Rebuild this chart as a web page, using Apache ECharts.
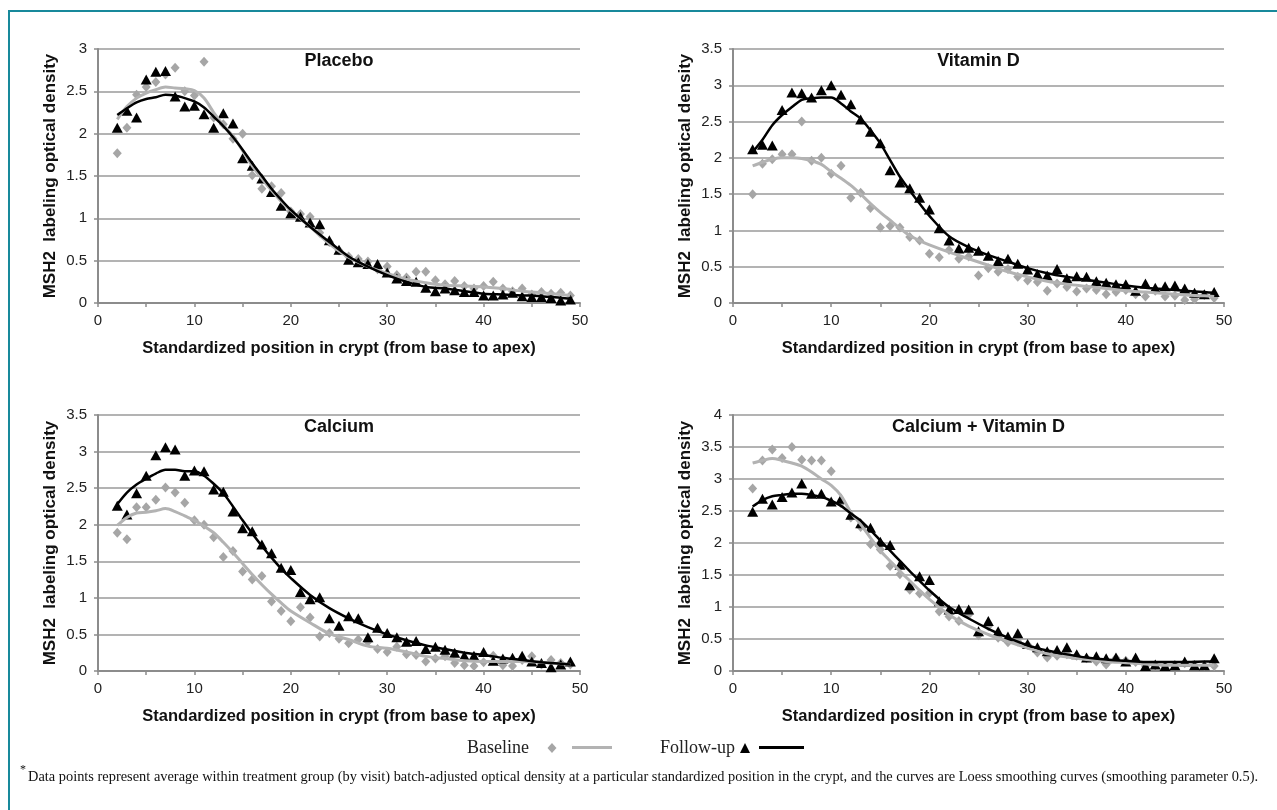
<!DOCTYPE html>
<html>
<head>
<meta charset="utf-8">
<script src="https://cdn.jsdelivr.net/npm/echarts@6/dist/echarts.min.js"></script>
<style>
html,body{margin:0;padding:0;background:#fff;}
#chart{position:absolute;left:0;top:0;width:1277px;height:810px;}
#frame{position:absolute;left:8px;top:10px;right:0;bottom:0;border-left:2px solid #18899b;border-top:2px solid #18899b;pointer-events:none;}
</style>
</head>
<body>
<div id="chart"></div>
<div id="frame"></div>
<script>
// ---------- data ----------
const positions = [2,3,4,5,6,7,8,9,10,11,12,13,14,15,16,17,18,19,20,21,22,23,24,25,26,27,28,29,30,31,32,33,34,35,36,37,38,39,40,41,42,43,44,45,46,47,48,49];
const curveX = [2,3,4,5,6,7,8,9,10,11,12,13,14,15,16,17,18,19,20,22,24,26,28,30,32,34,36,38,40,42,44,46,48,49];

const panelTitles = ['Placebo', 'Vitamin D', 'Calcium', 'Calcium + Vitamin D'];
const yMax = [3, 3.5, 3.5, 4];
const xTickLabels = [0, 10, 20, 30, 40, 50];

const placeboBaseline = [1.77,2.07,2.46,2.55,2.61,2.70,2.78,2.50,2.45,2.85, 2.19,2.11,1.94,2.00,1.51,1.35,1.38,1.30,1.08,1.05, 1.02,0.83,0.72,0.62,0.55,0.52,0.49,0.40,0.43,0.33, 0.30,0.37,0.37,0.27,0.22,0.26,0.20,0.17,0.20,0.25, 0.17,0.14,0.17,0.10,0.13,0.11,0.12,0.09];
const placeboFollowup = [2.07,2.27,2.19,2.64,2.73,2.74,2.44,2.32,2.33,2.23, 2.07,2.24,2.12,1.71,1.62,1.47,1.31,1.15,1.06,1.02, 0.95,0.93,0.74,0.63,0.51,0.48,0.46,0.46,0.36,0.29, 0.26,0.25,0.18,0.14,0.17,0.15,0.13,0.13,0.09,0.09, 0.10,0.12,0.08,0.07,0.07,0.06,0.03,0.04];
const vitDBaseline = [1.50,1.92,1.98,2.05,2.05,2.50,1.96,2.00,1.78,1.89, 1.45,1.52,1.31,1.04,1.06,1.04,0.91,0.86,0.68,0.63, 0.73,0.61,0.64,0.38,0.48,0.43,0.47,0.36,0.31,0.29, 0.17,0.27,0.22,0.16,0.20,0.18,0.12,0.15,0.18,0.12, 0.09,0.17,0.09,0.10,0.04,0.05,0.11,0.07];
const vitDFollowup = [2.12,2.18,2.17,2.66,2.90,2.89,2.83,2.93,3.00,2.87, 2.74,2.53,2.36,2.20,1.83,1.66,1.58,1.45,1.29,1.03, 0.86,0.75,0.76,0.72,0.65,0.58,0.61,0.54,0.46,0.40, 0.38,0.47,0.34,0.37,0.36,0.30,0.28,0.26,0.26,0.17, 0.27,0.21,0.23,0.24,0.20,0.14,0.12,0.15];
const calciumBaseline = [1.89,1.80,2.24,2.24,2.34,2.51,2.44,2.30,2.06,2.00, 1.83,1.56,1.64,1.36,1.25,1.30,0.95,0.82,0.68,0.87, 0.73,0.47,0.52,0.44,0.38,0.43,0.40,0.30,0.26,0.33, 0.23,0.22,0.13,0.17,0.20,0.11,0.08,0.07,0.12,0.21, 0.08,0.07,0.15,0.20,0.09,0.15,0.11,0.09];
const calciumFollowup = [2.26,2.14,2.43,2.67,2.95,3.06,3.03,2.67,2.74,2.73, 2.48,2.45,2.18,1.95,1.91,1.73,1.61,1.41,1.38,1.08, 0.98,1.01,0.72,0.62,0.75,0.72,0.46,0.59,0.52,0.46, 0.40,0.41,0.30,0.33,0.29,0.25,0.21,0.21,0.26,0.14, 0.17,0.18,0.21,0.13,0.11,0.05,0.09,0.13];
const caVDBaseline = [2.85,3.29,3.46,3.33,3.50,3.30,3.29,3.29,3.12,2.62, 2.40,2.25,1.98,1.90,1.64,1.51,1.27,1.21,1.22,0.93, 0.85,0.78,0.88,0.56,0.70,0.52,0.45,0.46,0.41,0.29, 0.21,0.24,0.26,0.24,0.20,0.15,0.10,0.20,0.16,0.14, 0.08,0.09,0.08,0.09,0.12,0.09,0.08,0.08];
const caVDFollowup = [2.49,2.69,2.60,2.72,2.79,2.93,2.77,2.77,2.65,2.69, 2.44,2.31,2.24,2.02,1.97,1.66,1.34,1.48,1.42,1.09, 0.96,0.97,0.96,0.62,0.78,0.62,0.54,0.59,0.42,0.37, 0.31,0.33,0.37,0.26,0.21,0.23,0.20,0.21,0.15,0.21, 0.08,0.10,0.08,0.09,0.15,0.09,0.09,0.20];

const placeboBaseCurve = [2.17,2.32,2.42,2.48,2.52,2.55,2.54,2.53,2.51,2.42, 2.25,2.10,1.97,1.80,1.62,1.47,1.33,1.20,1.09, 0.90,0.70,0.54,0.43,0.35,0.28,0.24,0.21,0.20,0.19,0.17,0.14,0.12,0.10,0.09];
const placeboFollowCurve = [2.22,2.30,2.37,2.41,2.43,2.46,2.45,2.42,2.38,2.31, 2.20,2.09,1.96,1.81,1.65,1.50,1.35,1.22,1.10, 0.90,0.72,0.55,0.43,0.33,0.25,0.19,0.17,0.14,0.11,0.10,0.09,0.08,0.06,0.05];
const vitDBaseCurve = [1.89,1.94,1.98,2.00,2.00,1.99,1.96,1.91,1.81,1.72, 1.62,1.50,1.37,1.25,1.14,1.03,0.93,0.86,0.80, 0.70,0.61,0.52,0.43,0.36,0.30,0.26,0.23,0.20,0.17,0.15,0.13,0.11,0.10,0.09];
const vitDFollowCurve = [2.08,2.25,2.45,2.59,2.70,2.80,2.82,2.83,2.83,2.75, 2.64,2.54,2.38,2.20,1.97,1.74,1.55,1.37,1.20, 0.92,0.77,0.66,0.57,0.48,0.41,0.36,0.32,0.28,0.24,0.21,0.19,0.17,0.15,0.14];
const calciumBaseCurve = [1.99,2.10,2.16,2.17,2.19,2.22,2.18,2.12,2.06,1.98, 1.89,1.76,1.62,1.47,1.32,1.18,1.05,0.93,0.82, 0.66,0.51,0.43,0.34,0.31,0.26,0.20,0.17,0.14,0.13,0.13,0.13,0.12,0.10,0.09];
const calciumFollowCurve = [2.28,2.44,2.55,2.63,2.70,2.75,2.75,2.73,2.73,2.67, 2.56,2.43,2.25,2.06,1.88,1.71,1.55,1.40,1.27, 1.04,0.86,0.72,0.60,0.50,0.42,0.35,0.30,0.25,0.22,0.18,0.15,0.12,0.10,0.09];
const caVDBaseCurve = [3.25,3.29,3.32,3.29,3.25,3.20,3.11,3.00,2.90,2.74, 2.48,2.29,2.08,1.88,1.72,1.56,1.41,1.26,1.12, 0.88,0.70,0.57,0.46,0.36,0.27,0.22,0.18,0.15,0.13,0.11,0.09,0.09,0.09,0.09];
const caVDFollowCurve = [2.57,2.67,2.73,2.75,2.77,2.77,2.75,2.72,2.66,2.58, 2.46,2.35,2.20,2.04,1.88,1.72,1.56,1.41,1.26, 1.00,0.82,0.66,0.52,0.40,0.32,0.26,0.21,0.18,0.16,0.14,0.14,0.14,0.15,0.15];

const baselinePoints = [placeboBaseline, vitDBaseline, calciumBaseline, caVDBaseline];
const followupPoints = [placeboFollowup, vitDFollowup, calciumFollowup, caVDFollowup];
const baselineCurves = [placeboBaseCurve, vitDBaseCurve, calciumBaseCurve, caVDBaseCurve];
const followupCurves = [placeboFollowCurve, vitDFollowCurve, calciumFollowCurve, caVDFollowCurve];

const xTitle = 'Standardized position in crypt (from base to apex)';
const yTitle = 'MSH2  labeling optical density';
const footnote = 'Data points represent average within treatment group (by visit) batch-adjusted optical density at a particular standardized position in the crypt, and the curves are Loess smoothing curves (smoothing parameter 0.5).';

// ---------- layout / style ----------
const grids = [
  {left: 98, top: 49, width: 482, height: 254},
  {left: 733, top: 49, width: 491, height: 254},
  {left: 98, top: 415, width: 482, height: 256},
  {left: 733, top: 415, width: 491, height: 256}
];
const SANS = '"Liberation Sans", Arial, sans-serif';
const SERIF = '"Liberation Serif", "Times New Roman", serif';
const GRAY_PT = '#a6a6a6';
const GRAY_LN = '#b3b3b3';
const AXIS = '#8c8c8c';

const zip = (xs, ys) => xs.map((x, i) => [x, ys[i]]);

const xAxes = grids.map((g, i) => ({
  type: 'value', gridIndex: i, min: 0, max: 50, interval: 5,
  axisLine: {show: true, lineStyle: {color: AXIS, width: 2}},
  axisTick: {show: true, length: 4, lineStyle: {color: AXIS, width: 1.5}},
  axisLabel: {
    margin: 10, color: '#222', fontFamily: SANS, fontSize: 15,
    formatter: v => (xTickLabels.indexOf(v) >= 0 ? String(v) : '')
  },
  splitLine: {show: false},
  name: xTitle, nameLocation: 'middle', nameGap: 37,
  nameTextStyle: {fontFamily: SANS, fontWeight: 'bold', fontSize: 16.5, color: '#111'}
}));

const yAxes = grids.map((g, i) => ({
  type: 'value', gridIndex: i, min: 0, max: yMax[i], interval: 0.5,
  axisLine: {show: true, lineStyle: {color: AXIS, width: 2}},
  axisTick: {show: true, length: 4, lineStyle: {color: AXIS, width: 1.5}},
  axisLabel: {margin: 11, color: '#222', fontFamily: SANS, fontSize: 15},
  splitLine: {show: true, lineStyle: {color: '#9a9a9a', width: 1.6}},
  name: yTitle, nameLocation: 'middle', nameGap: 39, nameRotate: 90,
  nameTextStyle: {fontFamily: SANS, fontWeight: 'bold', fontSize: 17, color: '#111'}
}));

const series = [];
for (let i = 0; i < 4; i++) {
  series.push({
    name: 'Baseline', type: 'scatter', xAxisIndex: i, yAxisIndex: i,
    symbol: 'diamond', symbolSize: [9, 10], z: 2,
    itemStyle: {color: GRAY_PT, opacity: 1},
    data: zip(positions, baselinePoints[i])
  });
  series.push({
    name: 'Follow-up', type: 'scatter', xAxisIndex: i, yAxisIndex: i,
    symbol: 'triangle', symbolSize: [11, 10], z: 3,
    itemStyle: {color: '#000', opacity: 1},
    data: zip(positions, followupPoints[i])
  });
  series.push({
    name: 'Baseline curve', type: 'line', xAxisIndex: i, yAxisIndex: i,
    showSymbol: false, smooth: 0.3, z: 4,
    lineStyle: {color: GRAY_LN, width: 3}, itemStyle: {color: GRAY_LN},
    data: zip(curveX, baselineCurves[i])
  });
  series.push({
    name: 'Follow-up curve', type: 'line', xAxisIndex: i, yAxisIndex: i,
    showSymbol: false, smooth: 0.3, z: 5,
    lineStyle: {color: '#000', width: 2.5}, itemStyle: {color: '#000'},
    data: zip(curveX, followupCurves[i])
  });
}

const legTxt = {fontFamily: SERIF, fontSize: 18, color: '#222'};
const legends = [
  {data: [{name: 'Baseline', icon: 'diamond'}], left: 467, top: 739, align: 'right', padding: 0,
   itemWidth: 9, itemHeight: 10, textStyle: legTxt, selectedMode: false,
   formatter: n => n + '   '},
  {data: [{name: 'Baseline curve', icon: 'rect'}], left: 572, top: 746, padding: 0,
   itemWidth: 40, itemHeight: 3, formatter: () => '', selectedMode: false},
  {data: [{name: 'Follow-up', icon: 'triangle'}], left: 660, top: 739, align: 'right', padding: 0,
   itemWidth: 10, itemHeight: 10, textStyle: legTxt, selectedMode: false},
  {data: [{name: 'Follow-up curve', icon: 'rect'}], left: 759, top: 746, padding: 0,
   itemWidth: 45, itemHeight: 3, formatter: () => '', selectedMode: false}
];

const titleCenters = grids.map(g => [g.left + g.width / 2, g.top + 12]);
const graphics = panelTitles.map((t, i) => ({
  type: 'text', silent: true,
  style: {text: t, x: titleCenters[i][0], y: titleCenters[i][1], align: 'center', verticalAlign: 'middle',
          font: 'bold 18px ' + SANS, fill: '#111'}
}));
graphics.push({type: 'text', silent: true,
  style: {text: '*', x: 20, y: 770, align: 'left', verticalAlign: 'middle', font: '12px ' + SERIF, fill: '#111'}});
graphics.push({type: 'text', silent: true,
  style: {text: footnote, x: 28, y: 777, align: 'left', verticalAlign: 'middle', font: '14.4px ' + SERIF, fill: '#111'}});

const chart = echarts.init(document.getElementById('chart'), null, {renderer: 'canvas'});
chart.setOption({
  backgroundColor: '#fff',
  animation: false,
  grid: grids,
  xAxis: xAxes,
  yAxis: yAxes,
  legend: legends,
  graphic: graphics,
  series: series
});
</script>
</body>
</html>
